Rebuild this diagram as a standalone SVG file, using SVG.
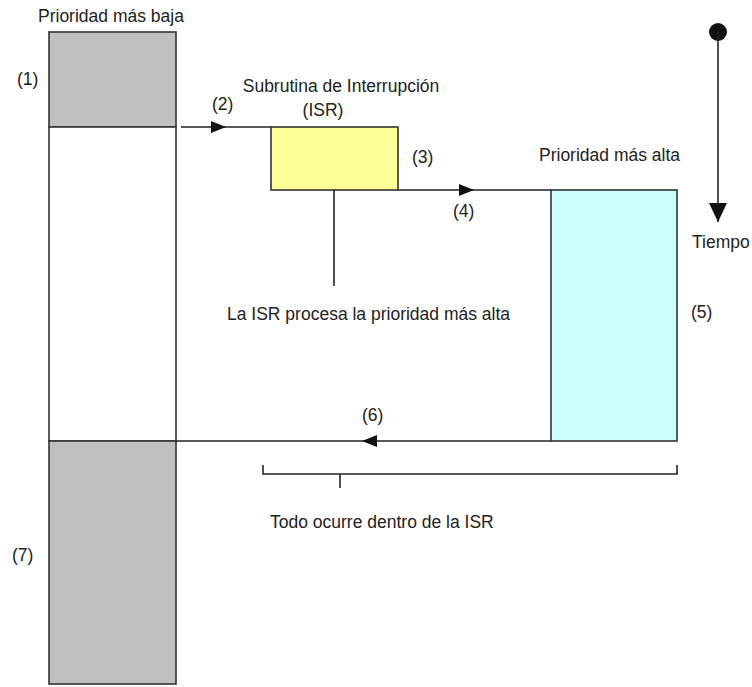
<svg xmlns="http://www.w3.org/2000/svg" width="752" height="687" viewBox="0 0 752 687">
  <style>
    .lbl { font-family: "Liberation Sans", Arial, sans-serif; font-size: 17.5px; fill: #222; }
    .box { stroke: #333; stroke-width: 1.6; }
    .wire { stroke: #222; stroke-width: 1.6; fill: none; }
  </style>
  <defs>
    <marker id="head" markerUnits="userSpaceOnUse" markerWidth="16" markerHeight="14" refX="15" refY="7" orient="auto">
      <polygon points="0,1 15,7 0,13" fill="#111"/>
    </marker>
    <marker id="bighead" markerUnits="userSpaceOnUse" markerWidth="20" markerHeight="20" refX="19" refY="9" orient="auto">
      <polygon points="0,0 19,9 0,18" fill="#111"/>
    </marker>
  </defs>

  <rect width="752" height="687" fill="#fff"/>

  <!-- low priority task column -->
  <g id="low-task">
    <rect class="box" x="49" y="32" width="127" height="95" fill="#c0c0c0"/>
    <rect class="box" x="49" y="127" width="127" height="314" fill="#fff"/>
    <rect class="box" x="49" y="441" width="127" height="243" fill="#c0c0c0"/>
    <text class="lbl" x="38" y="22">Prioridad más baja</text>
    <text class="lbl" x="17" y="85">(1)</text>
    <text class="lbl" x="12" y="561">(7)</text>
  </g>

  <!-- interrupt service routine -->
  <g id="isr">
    <rect class="box" x="271" y="127" width="127" height="63" fill="#ffff99"/>
    <text class="lbl" x="341" y="92" text-anchor="middle">Subrutina de Interrupción</text>
    <text class="lbl" x="323" y="116" text-anchor="middle">(ISR)</text>
    <text class="lbl" x="412" y="163">(3)</text>
  </g>

  <!-- high priority task -->
  <g id="high-task">
    <rect class="box" x="551" y="190" width="126" height="251" fill="#ccffff"/>
    <text class="lbl" x="539" y="161">Prioridad más alta</text>
    <text class="lbl" x="691" y="318">(5)</text>
  </g>

  <!-- time axis -->
  <g id="time-axis">
    <circle cx="718" cy="32" r="9" fill="#111"/>
    <line class="wire" x1="718" y1="32" x2="718" y2="222" marker-end="url(#bighead)"/>
    <text class="lbl" x="692" y="248">Tiempo</text>
  </g>

  <!-- annotations -->
  <g id="note-isr">
    <text class="lbl" x="227" y="320">La ISR procesa la prioridad más alta</text>
  </g>
  <g id="note-bracket">
    <path class="wire" d="M263,465 V474 H677 V465 M340,474 V488"/>
    <text class="lbl" x="270" y="528">Todo ocurre dentro de la ISR</text>
  </g>

  <!-- connectors -->
  <g id="connectors">
    <path class="wire" d="M181,127 L226,127 L271,127" marker-mid="url(#head)"/>
    <text class="lbl" x="212" y="110">(2)</text>
    <path class="wire" d="M398,190 L474,190 L551,190" marker-mid="url(#head)"/>
    <text class="lbl" x="453" y="217">(4)</text>
    <path class="wire" d="M551,441 L362,441 L176,441" marker-mid="url(#head)"/>
    <text class="lbl" x="362" y="421">(6)</text>
    <line class="wire" x1="334" y1="190" x2="334" y2="286"/>
  </g>
</svg>
